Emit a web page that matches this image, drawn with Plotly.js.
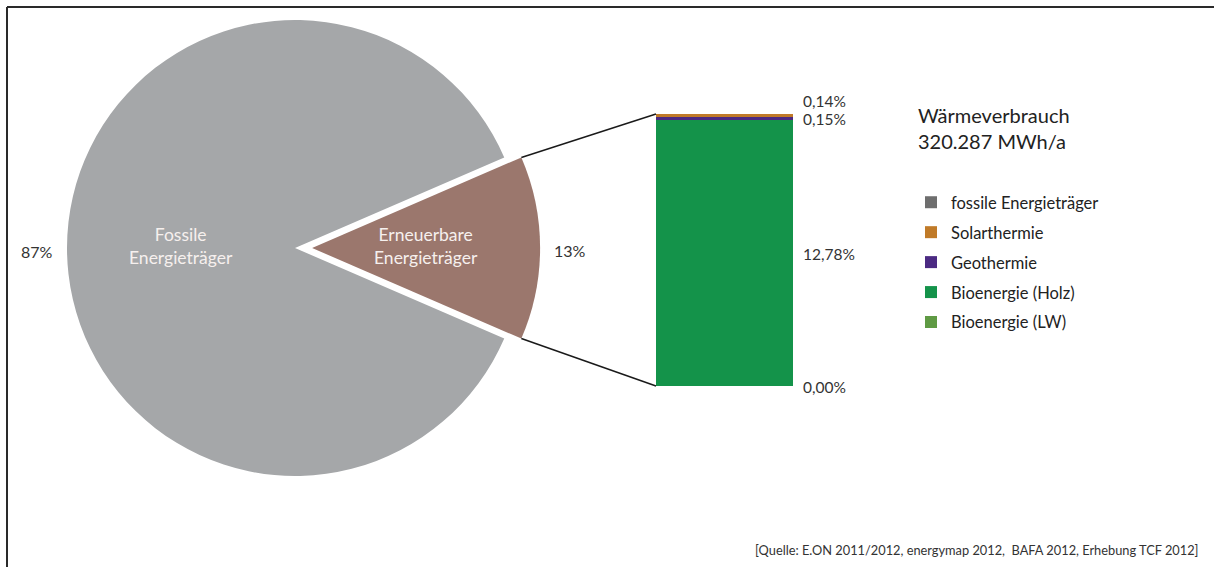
<!DOCTYPE html>
<html><head><meta charset="utf-8">
<script src="https://cdn.plot.ly/plotly-3.0.1.min.js"></script>
<style>html,body{margin:0;padding:0;background:#fff}#chart{width:1214px;height:567px}</style>
</head><body><div id="chart"></div>
<script>
// ---- data ----
const pieLabels = ['Fossile<br>Energieträger', 'Erneuerbare<br>Energieträger'];
const pieValues = [87, 13];
const pieColors = ['#a5a7a9', '#9b776d'];
const piePulled = [false, true];

const barCategory = ['Erneuerbare Energieträger'];
const barNames = ['Bioenergie (LW)', 'Bioenergie (Holz)', 'Geothermie', 'Solarthermie']; // bottom -> top
const barValues = [0.00, 12.78, 0.15, 0.14];
const barColors = ['#5f9a44', '#14934a', '#4b2a82', '#c07a28'];
const barLegendRank = [5, 4, 3, 2];

const fossilLegendName = 'fossile Energieträger';
const fossilLegendColor = '#6e6e6e';

const titleLines = ['Wärmeverbrauch', '320.287 MWh/a'];
const sourceText = '[Quelle: E.ON 2011/2012, energymap 2012,&nbsp; BAFA 2012, Erhebung TCF 2012]';

// ---- geometry ----
const W = 1214, H = 567;
const FONT = 'Lato, "Open Sans", sans-serif';
const pie = {cx: 295, cy: 248, R: 228, pull: 0.075};
const barBox = {x0: 656, x1: 793, y0: 114, y1: 386};
const px2x = x => x / W;
const px2y = y => 1 - y / H;

const half = pie.R * (1 + pie.pull);
const pieDomain = {x: [px2x(pie.cx - half), px2x(pie.cx + half)], y: [px2y(pie.cy + half), px2y(pie.cy - half)]};

const pieTotal = pieValues.reduce((a, b) => a + b, 0);
const renewShare = pieValues[1] / pieTotal;
const rotation = 90 + 180 * renewShare; // renewable slice centred at 3 o'clock

// slice angles (clockwise from top, degrees)
const slices = [];
let ang = rotation;
pieValues.forEach((v, i) => {
  const span = 360 * v / pieTotal;
  slices.push({start: ang, end: ang + span, mid: ang + span / 2});
  ang += span;
});
const rad = d => d * Math.PI / 180;
function sliceCenter(i) {
  const off = piePulled[i] ? pie.pull * pie.R : 0;
  const m = rad(slices[i].mid);
  return [pie.cx + off * Math.sin(m), pie.cy - off * Math.cos(m)];
}
function polar(i, r, angDeg) {
  const c = sliceCenter(i);
  const a = rad(angDeg);
  return [c[0] + r * Math.sin(a), c[1] - r * Math.cos(a)];
}

const annotations = [];
pieLabels.forEach((lab, i) => {
  const p = polar(i, pie.R * 0.5, slices[i].mid);
  annotations.push({x: px2x(p[0]), y: px2y(p[1] - 2), xref: 'paper', yref: 'paper', text: lab, showarrow: false,
    xanchor: 'center', yanchor: 'middle', font: {family: FONT, size: 17.5, color: '#f6f0ee'}});
  const q = polar(i, pie.R + 30, slices[i].mid);
  annotations.push({x: px2x(q[0]), y: px2y(q[1] + 3), xref: 'paper', yref: 'paper',
    text: Math.round(100 * pieValues[i] / pieTotal) + '%', showarrow: false,
    xanchor: 'center', yanchor: 'middle', font: {family: FONT, size: 16, color: '#333333'}});
});

// bar value labels (pushed apart when they would collide)
const barTotal = barValues.reduce((a, b) => a + b, 0);
const pxPerUnit = (barBox.y1 - barBox.y0) / barTotal;
let cum = 0; const labelY = [];
barValues.forEach((v, i) => {
  let y = barBox.y1 - (cum + v / 2) * pxPerUnit;
  if (i > 0 && y > labelY[i - 1] - 18) y = labelY[i - 1] - 18;
  labelY.push(y); cum += v;
});
barValues.forEach((v, i) => {
  annotations.push({x: px2x(barBox.x1 + 8), y: px2y(labelY[i] + 1), xref: 'paper', yref: 'paper',
    text: v.toFixed(2).replace('.', ',') + '%', showarrow: false, xanchor: 'left', yanchor: 'middle',
    font: {family: FONT, size: 15.5, color: '#333333'}});
});

annotations.push({x: px2x(916), y: px2y(128), xref: 'paper', yref: 'paper', text: titleLines.join('<br>'),
  showarrow: false, xanchor: 'left', yanchor: 'middle', align: 'left', font: {family: FONT, size: 20, color: '#222222'}});
annotations.push({x: px2x(1201), y: px2y(550), xref: 'paper', yref: 'paper', text: sourceText,
  showarrow: false, xanchor: 'right', yanchor: 'middle', font: {family: FONT, size: 12.8, color: '#333333'}});

// connector lines from the pulled slice to the bar
const ri = piePulled.indexOf(true);
const pTop = polar(ri, pie.R, slices[ri].start);
const pBot = polar(ri, pie.R, slices[ri].end);
const lineStyle = {color: '#1a1a1a', width: 1.5};
const shapes = [
  {type: 'line', xref: 'paper', yref: 'paper', x0: px2x(pTop[0]), y0: px2y(pTop[1]), x1: px2x(barBox.x0), y1: px2y(barBox.y0), line: lineStyle},
  {type: 'line', xref: 'paper', yref: 'paper', x0: px2x(pBot[0]), y0: px2y(pBot[1]), x1: px2x(barBox.x0), y1: px2y(barBox.y1), line: lineStyle},
  {type: 'line', xref: 'paper', yref: 'paper', x0: px2x(7), y0: px2y(7), x1: 1, y1: px2y(7), line: {color: '#2a2a2a', width: 2}},
  {type: 'line', xref: 'paper', yref: 'paper', x0: px2x(7), y0: px2y(7), x1: px2x(7), y1: 0, line: {color: '#2a2a2a', width: 2}}
];

// ---- traces ----
const traces = [{
  type: 'pie', labels: pieLabels, values: pieValues, sort: false, direction: 'clockwise', rotation: rotation,
  pull: piePulled.map(p => p ? pie.pull : 0), marker: {colors: pieColors, line: {width: 0}},
  textinfo: 'none', showlegend: false, hoverinfo: 'label+percent', domain: pieDomain
}];
barValues.forEach((v, i) => {
  traces.push({type: 'bar', x: barCategory, y: [v], name: barNames[i], width: 1,
    marker: {color: barColors[i], line: {width: 0}}, legendrank: barLegendRank[i], legendgroup: 'g' + i});
});
traces.push({type: 'scatter', mode: 'markers', x: [null], y: [null], name: fossilLegendName,
  marker: {symbol: 'square', size: 12, color: fossilLegendColor}, legendrank: 1, legendgroup: 'gf', hoverinfo: 'skip'});

const layout = {
  width: W, height: H, margin: {l: 0, r: 0, t: 0, b: 0}, paper_bgcolor: '#fff', plot_bgcolor: 'rgba(0,0,0,0)',
  barmode: 'stack', bargap: 0,
  xaxis: {domain: [px2x(barBox.x0), px2x(barBox.x1)], range: [-0.5, 0.5], visible: false, fixedrange: true},
  yaxis: {domain: [px2y(barBox.y1), px2y(barBox.y0)], range: [0, barTotal], visible: false, fixedrange: true},
  showlegend: true,
  legend: {x: px2x(951 - 40), y: px2y(185), xanchor: 'left', yanchor: 'top', traceorder: 'grouped',
    tracegroupgap: 5.5, bgcolor: 'rgba(0,0,0,0)', font: {family: FONT, size: 16.5, color: '#222222'}},
  annotations: annotations, shapes: shapes,
  font: {family: FONT}
};
Plotly.newPlot('chart', traces, layout, {displayModeBar: false, staticPlot: true});
</script>
</body></html>
